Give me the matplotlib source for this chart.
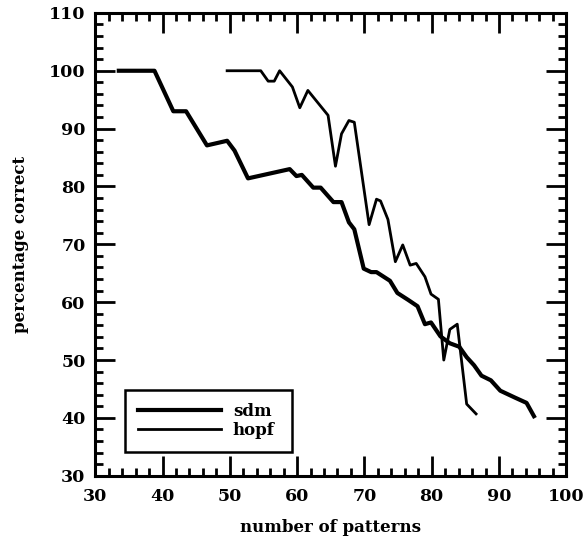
import matplotlib
matplotlib.use("Agg")
import matplotlib.pyplot as plt
from matplotlib.ticker import MultipleLocator

# sdm curve (thick line)
sdm_x = [33.5, 38.8, 41.6, 43.5, 46.6, 49.6, 50.7, 52.7, 58.9, 59.9, 60.7, 62.4,
         63.5, 65.4, 66.6, 67.7, 68.5, 69.9, 71.0, 71.8, 73.8, 74.9, 76.5, 77.9,
         79.0, 79.9, 81.3, 82.7, 84.1, 85.2, 86.3, 87.4, 88.8, 90.2, 92.4, 94.1, 95.2]
sdm_y = [100, 100, 93.0, 93.0, 87.1, 87.9, 86.2, 81.4, 83.0, 81.8, 82.0, 79.8,
         79.8, 77.3, 77.3, 73.8, 72.6, 65.8, 65.2, 65.2, 63.7, 61.6, 60.4, 59.3,
         56.2, 56.5, 54.1, 52.9, 52.3, 50.5, 49.1, 47.3, 46.5, 44.7, 43.5, 42.6, 40.3]

# hopf curve (thinner line)
hopf_x = [49.6, 54.6, 55.7, 56.6, 57.4, 59.3, 60.4, 61.6, 64.6, 65.7, 66.6, 67.7,
          68.5, 70.7, 71.8, 72.4, 73.5, 74.6, 75.7, 76.8, 77.7, 79.0, 79.9, 81.0,
          81.8, 82.7, 83.8, 85.2, 86.6]
hopf_y = [100, 100, 98.2, 98.2, 100, 97.2, 93.6, 96.6, 92.3, 83.5, 89.1, 91.4,
          91.1, 73.4, 77.8, 77.5, 74.3, 67.0, 69.9, 66.4, 66.7, 64.4, 61.4, 60.5,
          50.0, 55.3, 56.2, 42.4, 40.7]

font = {"family": "DejaVu Serif", "weight": "bold", "size": 12}
plt.rcParams["font.family"] = "DejaVu Serif"
plt.rcParams["font.weight"] = "bold"

fig = plt.figure(figsize=(5.88, 5.37), dpi=100)
ax = fig.add_axes([0.162, 0.114, 0.801, 0.862])

ax.plot(sdm_x, sdm_y, color="black", lw=3.0, label="sdm")
ax.plot(hopf_x, hopf_y, color="black", lw=2.0, label="hopf")

ax.set_xlim(30, 100)
ax.set_ylim(30, 110)
ax.xaxis.set_major_locator(MultipleLocator(10))
ax.xaxis.set_minor_locator(MultipleLocator(2))
ax.yaxis.set_major_locator(MultipleLocator(10))
ax.yaxis.set_minor_locator(MultipleLocator(2))

ax.tick_params(which="both", direction="in", top=True, right=True, width=2.0,
               labelsize=12.5)
ax.tick_params(which="major", length=14.5)
ax.tick_params(which="minor", length=5.5)
ax.tick_params(axis="x", pad=9)
ax.tick_params(axis="y", pad=7)
for lab in ax.get_xticklabels() + ax.get_yticklabels():
    lab.set_fontweight("bold")
for sp in ax.spines.values():
    sp.set_linewidth(2.2)

ax.set_xlabel("number of patterns", fontdict=font, labelpad=10)
ax.set_ylabel("percentage correct", fontdict=font, labelpad=14)

leg = ax.legend(loc="lower left", bbox_to_anchor=(0.064, 0.052, 0.354, 0.129),
                mode="expand", fancybox=False, framealpha=1, edgecolor="black",
                handlelength=5, handletextpad=0.7, borderpad=0.75,
                labelspacing=0.15, borderaxespad=0,
                prop={"family": "DejaVu Serif", "weight": "bold", "size": 12})
leg.get_frame().set_linewidth(1.8)

fig.savefig("out.png", dpi=100)
plt.close(fig)
